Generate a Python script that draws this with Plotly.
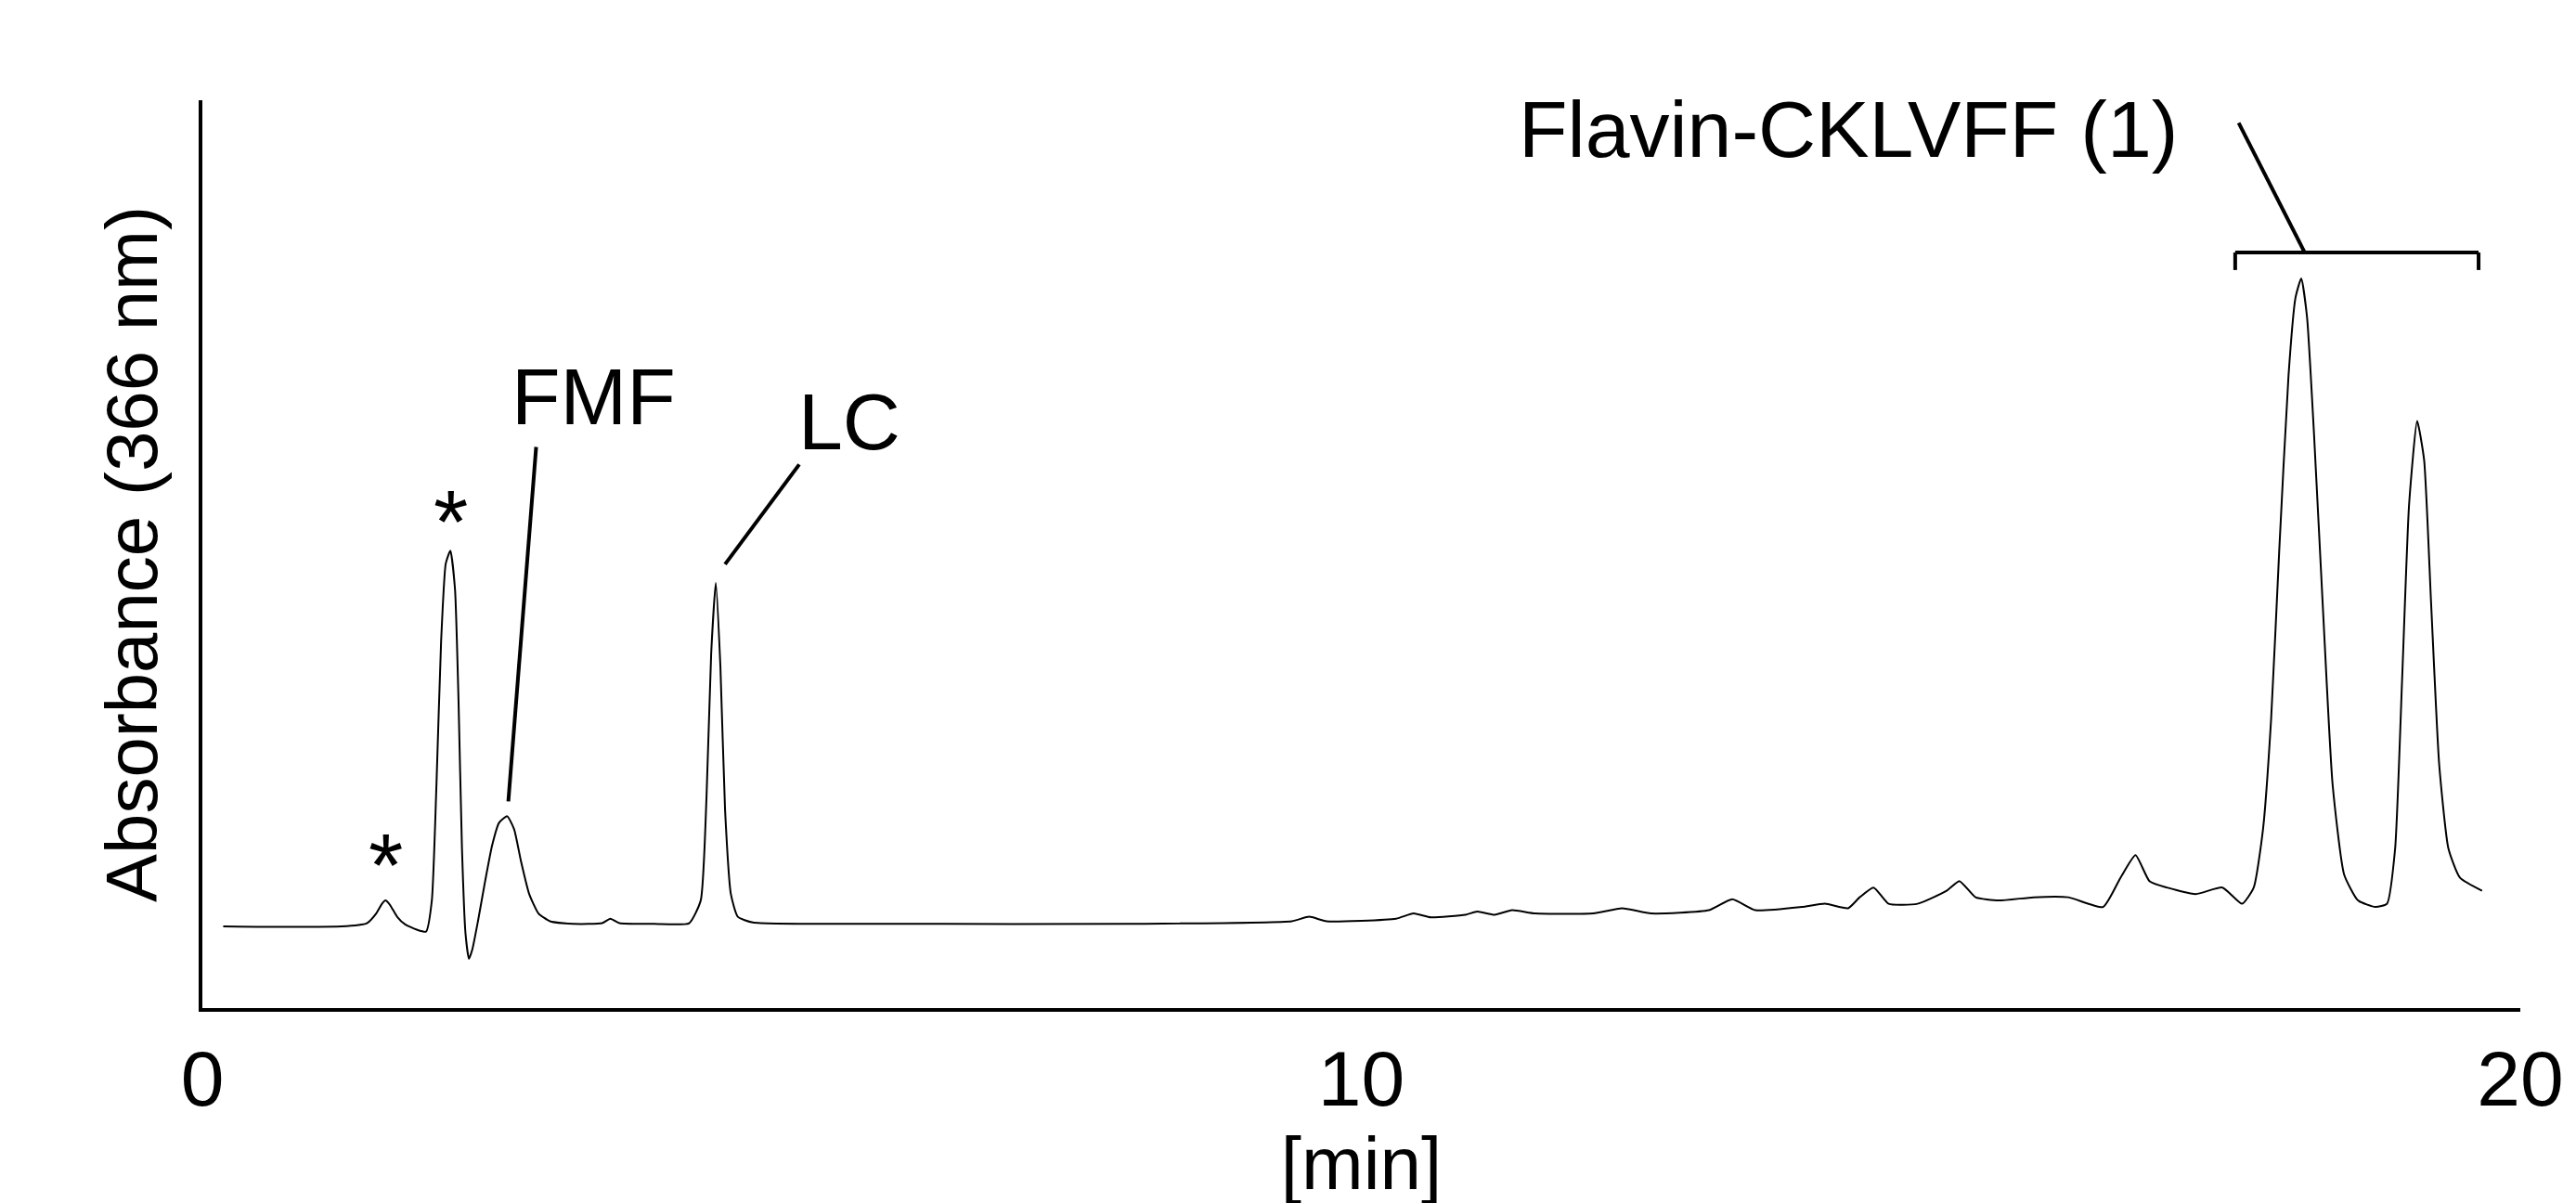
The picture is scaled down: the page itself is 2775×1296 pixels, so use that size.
import plotly.graph_objects as go

# chromatogram: time [min], absorbance (largest peak = 100)
time = [0.18, 1.2, 1.42, 1.5, 1.55, 1.58, 1.62, 1.68, 1.75, 1.85, 1.93, 1.98, 2.02, 2.06, 2.1, 2.14, 2.18, 2.21, 2.24, 2.27,
        2.3, 2.33, 2.38, 2.44, 2.5, 2.56, 2.63, 2.69, 2.75, 2.82, 2.9, 3.0, 3.2, 3.45, 3.52, 3.6, 3.9, 4.2, 4.3, 4.35,
        4.39, 4.43, 4.47, 4.51, 4.56, 4.62, 4.75, 6.0, 8.0, 9.4, 9.55, 9.7, 10.3, 10.45, 10.6, 10.9, 11.0, 11.15, 11.3, 11.5,
        12.0, 12.25, 12.5, 13.0, 13.2, 13.4, 13.8, 14.0, 14.2, 14.3, 14.42, 14.55, 14.8, 15.05, 15.16, 15.3, 15.5, 15.8, 16.1, 16.4,
        16.55, 16.68, 16.8, 16.95, 17.2, 17.43, 17.6, 17.7, 17.78, 17.85, 17.92, 18.0, 18.06, 18.11, 18.16, 18.22, 18.3, 18.38, 18.48, 18.6,
        18.75, 18.85, 18.92, 18.98, 19.04, 19.11, 19.17, 19.23, 19.3, 19.38, 19.48, 19.67]
absorb = [0, 0, 0.5, 2, 3.5, 4, 3.3, 1.5, 0.3, -0.5, -0.8, 4, 22, 44, 56, 58, 52, 35, 12, -1,
          -5, -3.5, 1, 7, 12.5, 16, 17, 15, 10, 5, 2, 0.8, 0.4, 0.5, 1.2, 0.5, 0.4, 0.5, 4, 20,
          42, 53, 40, 18, 5, 1.5, 0.6, 0.4, 0.4, 0.8, 1.5, 0.8, 1.2, 2.0, 1.4, 1.8, 2.3, 1.8, 2.5, 2.0,
          2.0, 2.8, 2.0, 2.5, 4.2, 2.5, 3.0, 3.5, 2.8, 4.5, 6.0, 3.5, 3.5, 5.5, 7.0, 4.5, 4.0, 4.5, 4.5, 3.0,
          7.5, 11, 7, 6, 5, 6, 3.5, 6, 15, 32, 58, 85, 97, 100, 94, 76, 48, 22, 8, 4,
          3, 3.5, 12, 38, 65, 78, 72, 50, 25, 12, 7.5, 5.5]

font = "Liberation Sans Narrow, Liberation Sans, Arial"

fig = go.Figure()
fig.add_trace(go.Scatter(x=time, y=absorb, mode="lines",
                         line=dict(color="black", width=2, shape="spline", smoothing=0.5),
                         showlegend=False, hoverinfo="skip"))

# leader lines and bracket
seg = dict(color="black", width=4)
fig.add_shape(type="line", x0=2.88, y0=74, x1=2.64, y1=19.3, line=seg)
fig.add_shape(type="line", x0=5.15, y0=71.3, x1=4.51, y1=55.9, line=seg)
fig.add_shape(type="line", x0=17.57, y0=124, x1=18.14, y1=104, line=seg)
fig.add_shape(type="line", x0=17.54, y0=104, x1=19.64, y1=104, line=seg)
fig.add_shape(type="line", x0=17.54, y0=104, x1=17.54, y1=101.3, line=seg)
fig.add_shape(type="line", x0=19.64, y0=104, x1=19.64, y1=101.3, line=seg)

labels = [("*", 1.58, 9.5), ("*", 2.14, 62.5), ("FMF", 3.38, 81.8), ("LC", 5.58, 78), ("Flavin-CKLVFF (1)", 14.2, 123)]
for txt, lx, ly in labels:
    fig.add_annotation(x=lx, y=ly, text=txt, showarrow=False,
                       font=dict(family=font, size=96 if txt == "*" else 86, color="black"))

fig.update_layout(
    width=2775, height=1296, plot_bgcolor="white", paper_bgcolor="white",
    margin=dict(l=210, r=68, t=100, b=218),
    xaxis=dict(range=[0, 20], tickvals=[0, 10, 20], ticks="", showgrid=False, zeroline=False,
               showline=True, linecolor="black", linewidth=4,
               tickfont=dict(family=font, size=84, color="black"),
               title=dict(text="[min]", font=dict(family=font, size=80, color="black"), standoff=5)),
    yaxis=dict(range=[-12.6, 127.5], showticklabels=False, ticks="", showgrid=False, zeroline=False,
               showline=True, linecolor="black", linewidth=4,
               title=dict(text="Absorbance (366 nm)", font=dict(family="Liberation Sans, Arial", size=78, color="black"),
                          standoff=20)),
)

fig.write_html("out.html")
